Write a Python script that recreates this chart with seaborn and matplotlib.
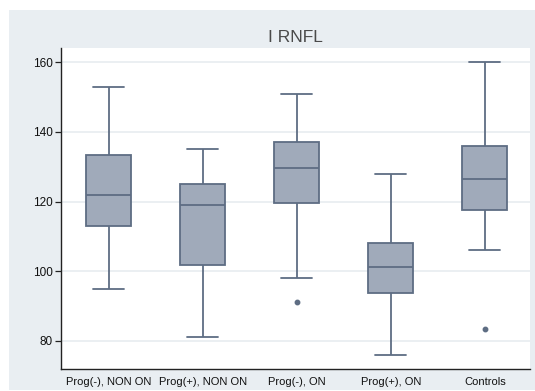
import numpy as np
import pandas as pd
import matplotlib
matplotlib.use("Agg")
import matplotlib.pyplot as plt
from matplotlib.patches import Rectangle
import seaborn as sns

# Five-number summaries per group (I RNFL, microns)
groups = ["Prog(-), NON ON", "Prog(+), NON ON", "Prog(-), ON", "Prog(+), ON", "Controls"]
whisker_low = [95.0, 81.0, 98.0, 76.0, 106.0]
q1 = [113.0, 101.7, 119.5, 93.6, 117.6]
median = [122.0, 119.1, 129.6, 101.1, 126.5]
q3 = [133.3, 125.0, 137.0, 108.1, 135.9]
whisker_high = [153.0, 135.0, 151.0, 128.0, 160.0]
outliers = [[], [], [91.2], [], [83.3]]

# Long-form table whose quartiles/whiskers reproduce the summaries above
rows = []
for i, g in enumerate(groups):
    for v in (whisker_low[i], q1[i], median[i], q3[i], whisker_high[i]):
        rows += [(g, v)] * 4
    rows += [(g, v) for v in outliers[i]]
df = pd.DataFrame(rows, columns=["group", "rnfl"])

sns.set_style("white")
plt.rcParams["font.family"] = ["Liberation Sans", "DejaVu Sans"]

fig = plt.figure(figsize=(5.35, 3.91), dpi=100, facecolor="white")
fig.patches.append(Rectangle((9 / 535, 1 - 390 / 391), 1 - 9 / 535, (390 - 10) / 391,
                             transform=fig.transFigure, facecolor="#E9EEF2",
                             edgecolor="none", zorder=-5))
ax = fig.add_axes([61 / 535, 1 - 369 / 391, (530 - 61) / 535, (369 - 48) / 391])
ax.set_facecolor("white")

fill = "#A0AABA"
edge = "#5E6D83"
sns.boxplot(data=df, x="group", y="rnfl", order=groups, ax=ax,
            color=fill, linecolor=edge, linewidth=1.3, width=0.48,
            saturation=1, capwidths=0.33, fliersize=3.2,
            flierprops=dict(marker="o", markerfacecolor=edge, markeredgecolor=edge),
            boxprops=dict(facecolor=fill, edgecolor=edge))

ax.set_xlim(-0.51, 4.48)
ax.set_ylim(71.9, 164.1)
ax.set_yticks([80, 100, 120, 140, 160])
ax.yaxis.grid(True, color="#E5EBEF", linewidth=1.1)
ax.set_axisbelow(True)
for s in ("top", "right"):
    ax.spines[s].set_visible(False)
for s in ("left", "bottom"):
    ax.spines[s].set_color("#222222")
    ax.spines[s].set_linewidth(1.0)

ax.tick_params(axis="y", length=4, width=0.9, color="#222222", pad=2, labelsize=8.5,
               labelcolor="#111111", left=True)
ax.tick_params(axis="x", length=0, pad=6, labelsize=8, labelcolor="#111111")
ax.set_xlabel("")
ax.set_ylabel("")
ax.set_title("I RNFL", fontsize=12.5, color="#4A4A4A", pad=4)

fig.savefig("out.png", dpi=100, facecolor="white")
